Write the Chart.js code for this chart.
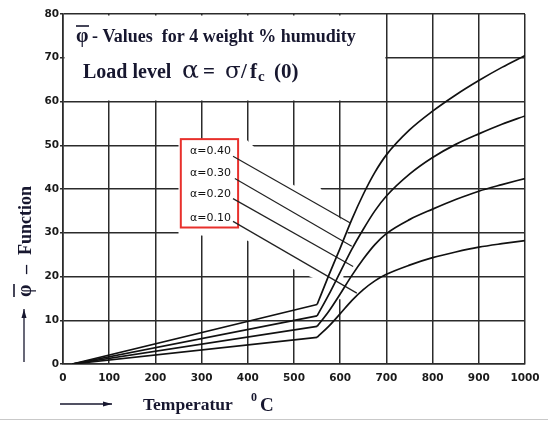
<!DOCTYPE html>
<html>
<head>
<meta charset="utf-8">
<script src="https://cdn.jsdelivr.net/npm/chart.js@4"></script>
<style>
  html, body { margin: 0; padding: 0; background: #fff; }
  #wrap { width: 548px; height: 421px; position: relative; }
</style>
</head>
<body>
<div id="wrap"><canvas id="phiChart" width="548" height="421"></canvas></div>
<script>
// -- Data --
const xTicks = [0, 100, 200, 300, 400, 500, 600, 700, 800, 900, 1000];
const yTicks = [0, 10, 20, 30, 40, 50, 60, 70, 80];

// straight part up to the kink at 550 C
const linearTemps = [20, 550];
const phi040Linear = [0, 13.6];
const phi030Linear = [0, 11.0];
const phi020Linear = [0, 8.6];
const phi010Linear = [0, 6.1];

// curved part after the kink
const curveTemps = [550, 575, 600, 625, 650, 675, 700, 750, 800, 850, 900, 950, 1000];
const phi040Curve = [13.6, 20.2, 26.5, 33.0, 38.8, 43.8, 47.8, 53.5, 57.8, 61.5, 64.8, 67.8, 70.5];
const phi030Curve = [11.0, 15.8, 21.0, 26.2, 30.8, 35.0, 38.4, 43.4, 47.2, 50.2, 52.6, 54.8, 56.7];
const phi020Curve = [8.6, 12.0, 16.0, 20.2, 24.0, 27.3, 29.8, 33.0, 35.4, 37.6, 39.5, 41.0, 42.4];
const phi010Curve = [6.1, 8.6, 11.5, 14.5, 17.0, 19.0, 20.5, 22.6, 24.3, 25.6, 26.7, 27.5, 28.2];

// curve labels and their leader lines
const alphaLabels = ['α=0.40', 'α=0.30', 'α=0.20', 'α=0.10'];
const labelX = 275;
const labelY = [48.7, 43.7, 38.8, 33.4];
const leaderFromX = [368, 372, 368, 368];
const leaderFromY = [47.5, 42.4, 37.8, 32.6];
const leaderToX = [621, 625, 628, 636];
const leaderToY = [32.3, 26.9, 22.3, 16.2];

// label box and the blank regions where the drawing interrupts the grid
const boxX = [255, 379];
const boxY = [31.2, 51.4];
const headerX = [0, 700];
const headerY = [60, 80];
const gapX = [250, 398, 500, 555, 616, 616, 607, 607, 550, 545, 500, 400, 300, 250];
const gapY = [51.2, 51.2, 40.8, 40.6, 30.6, 29.4, 21, 14.8, 14.8, 19.5, 21.6, 28.2, 29.4, 29.4];

// -- Helpers --
const toPoints = (xs, ys) => xs.map((x, i) => ({ x: x, y: ys[i] }));
const TEXT = '#17172f';
const SERIF = '"Liberation Serif", "Times New Roman", serif';
const SYMBOL = '"DejaVu Serif", serif';

function curveSet(xs, ys, smooth) {
    return {
        data: toPoints(xs, ys),
        borderColor: '#111',
        borderWidth: 1.7,
        pointRadius: 0,
        fill: false,
        cubicInterpolationMode: smooth ? 'monotone' : 'default',
        tension: 0
    };
}

function hLine(ctx, x, y, w) {
    ctx.beginPath();
    ctx.moveTo(x, y);
    ctx.lineTo(x + w, y);
    ctx.stroke();
}

function arrow(ctx, x1, y1, x2, y2) {
    const ang = Math.atan2(y2 - y1, x2 - x1);
    const c = Math.cos(ang), s = Math.sin(ang);
    ctx.beginPath();
    ctx.moveTo(x1, y1);
    ctx.lineTo(x2, y2);
    ctx.stroke();
    ctx.beginPath();
    ctx.moveTo(x2, y2);
    ctx.lineTo(x2 - 9 * c + 2.5 * s, y2 - 9 * s - 2.5 * c);
    ctx.lineTo(x2 - 9 * c - 2.5 * s, y2 - 9 * s + 2.5 * c);
    ctx.closePath();
    ctx.fill();
}

function text(ctx, str, font, x, y) {
    ctx.font = font;
    ctx.fillText(str, x, y);
}

// -- Plugin: grid gaps, label box, texts --
const sketchPlugin = {
    id: 'sketch',
    beforeDatasetsDraw(chart) {
        const { ctx, scales: { x, y } } = chart;
        ctx.save();
        ctx.fillStyle = '#fff';
        // header block without grid
        const hx1 = x.getPixelForValue(headerX[0]) + 1.5;
        const hx2 = x.getPixelForValue(headerX[1]) - 1;
        const hy1 = y.getPixelForValue(headerY[1]) + 1.5;
        const hy2 = y.getPixelForValue(headerY[0]) - 1;
        ctx.fillRect(hx1, hy1, hx2 - hx1, hy2 - hy1);
        // gap around the label box and leaders
        ctx.beginPath();
        gapX.forEach((v, i) => {
            const px = x.getPixelForValue(v);
            const py = y.getPixelForValue(gapY[i]);
            if (i === 0) ctx.moveTo(px, py); else ctx.lineTo(px, py);
        });
        ctx.closePath();
        ctx.fill();
        // red label box
        const bx1 = x.getPixelForValue(boxX[0]);
        const bx2 = x.getPixelForValue(boxX[1]);
        const by1 = y.getPixelForValue(boxY[1]);
        const by2 = y.getPixelForValue(boxY[0]);
        ctx.fillRect(bx1, by1, bx2 - bx1, by2 - by1);
        ctx.strokeStyle = '#e8302c';
        ctx.lineWidth = 2;
        ctx.strokeRect(bx1, by1, bx2 - bx1, by2 - by1);
        // alpha labels
        ctx.fillStyle = '#111';
        ctx.font = '11px "DejaVu Sans", sans-serif';
        ctx.textBaseline = 'middle';
        alphaLabels.forEach((t, i) => {
            ctx.fillText(t, x.getPixelForValue(labelX), y.getPixelForValue(labelY[i]));
        });
        ctx.restore();
    },
    afterDraw(chart) {
        const { ctx } = chart;
        ctx.save();
        ctx.fillStyle = TEXT;
        ctx.strokeStyle = TEXT;
        ctx.textBaseline = 'alphabetic';

        // header line 1
        text(ctx, 'φ', 'bold 20px ' + SERIF, 76, 42);
        ctx.lineWidth = 1.6;
        hLine(ctx, 76, 26, 13);
        text(ctx, '- Values  for 4 weight % humudity', 'bold 18px ' + SERIF, 92, 42);

        // header line 2
        const b2 = 78;
        text(ctx, 'Load level', 'bold 20px ' + SERIF, 83, b2);
        text(ctx, 'α', '25px ' + SYMBOL, 182, b2);
        text(ctx, '=', 'bold 21px ' + SERIF, 203, b2);
        text(ctx, 'σ', '23px ' + SYMBOL, 225, b2);
        text(ctx, '/', 'bold 21px ' + SERIF, 241, b2);
        text(ctx, 'f', 'bold 21px ' + SERIF, 250, b2);
        text(ctx, 'c', 'bold 15px ' + SERIF, 258, b2 + 3);
        text(ctx, '(0)', 'bold 21px ' + SERIF, 274, b2);

        // y axis title, rotated
        ctx.save();
        ctx.translate(31, 0);
        ctx.rotate(-Math.PI / 2);
        text(ctx, 'φ', 'bold 20px ' + SERIF, -297, 0);
        ctx.lineWidth = 1.6;
        hLine(ctx, -297, -17, 13);
        text(ctx, '–', 'bold 18px ' + SERIF, -274, 0);
        text(ctx, 'Function', 'bold 18px ' + SERIF, -255, 0);
        ctx.restore();
        ctx.lineWidth = 1.3;
        arrow(ctx, 24, 362, 24, 309);

        // x axis title
        arrow(ctx, 60, 404, 112, 404);
        text(ctx, 'Temperatur', 'bold 17.5px ' + SERIF, 143, 410);
        text(ctx, '0', 'bold 12px ' + SERIF, 251, 401);
        text(ctx, 'C', 'bold 19px ' + SERIF, 260, 411);

        // faint frame line along the bottom of the picture
        ctx.strokeStyle = '#c9c9c9';
        ctx.lineWidth = 1;
        hLine(ctx, 0, 419.5, 548);
        ctx.restore();
    }
};

// -- Datasets --
const datasets = [
    curveSet(linearTemps, phi040Linear, false),
    curveSet(linearTemps, phi030Linear, false),
    curveSet(linearTemps, phi020Linear, false),
    curveSet(linearTemps, phi010Linear, false),
    curveSet(curveTemps, phi040Curve, true),
    curveSet(curveTemps, phi030Curve, true),
    curveSet(curveTemps, phi020Curve, true),
    curveSet(curveTemps, phi010Curve, true)
];
alphaLabels.forEach((t, i) => {
    datasets.push({
        data: toPoints([leaderFromX[i], leaderToX[i]], [leaderFromY[i], leaderToY[i]]),
        borderColor: '#222',
        borderWidth: 1.2,
        pointRadius: 0,
        fill: false
    });
});

const gridColor = '#2b2b2b';
const tickFont = { family: '"DejaVu Sans", sans-serif', size: 10.5, weight: 'bold' };

new Chart(document.getElementById('phiChart'), {
    type: 'line',
    data: { datasets: datasets },
    options: {
        responsive: false,
        animation: false,
        devicePixelRatio: 1,
        layout: { padding: { left: 0, right: 23, top: 14, bottom: 0 } },
        plugins: {
            legend: { display: false },
            tooltip: { enabled: false }
        },
        scales: {
            x: {
                type: 'linear',
                min: 0,
                max: 1000,
                afterBuildTicks: (s) => { s.ticks = xTicks.map(v => ({ value: v })); },
                afterFit: (s) => { s.height = 57; },
                grid: { color: gridColor, lineWidth: 1.5, drawTicks: false },
                border: { color: gridColor, width: 1.6 },
                ticks: {
                    color: '#1a1a1a', font: tickFont, padding: 8, maxRotation: 0,
                    callback: (v) => String(v)
                }
            },
            y: {
                type: 'linear',
                min: 0,
                max: 80,
                afterBuildTicks: (s) => { s.ticks = yTicks.map(v => ({ value: v })); },
                afterFit: (s) => { s.width = 63; },
                grid: { color: gridColor, lineWidth: 1.5, tickLength: 3 },
                border: { color: gridColor, width: 1.6 },
                ticks: { color: '#1a1a1a', font: tickFont, padding: 1 }
            }
        }
    },
    plugins: [sketchPlugin]
});
</script>
</body>
</html>
